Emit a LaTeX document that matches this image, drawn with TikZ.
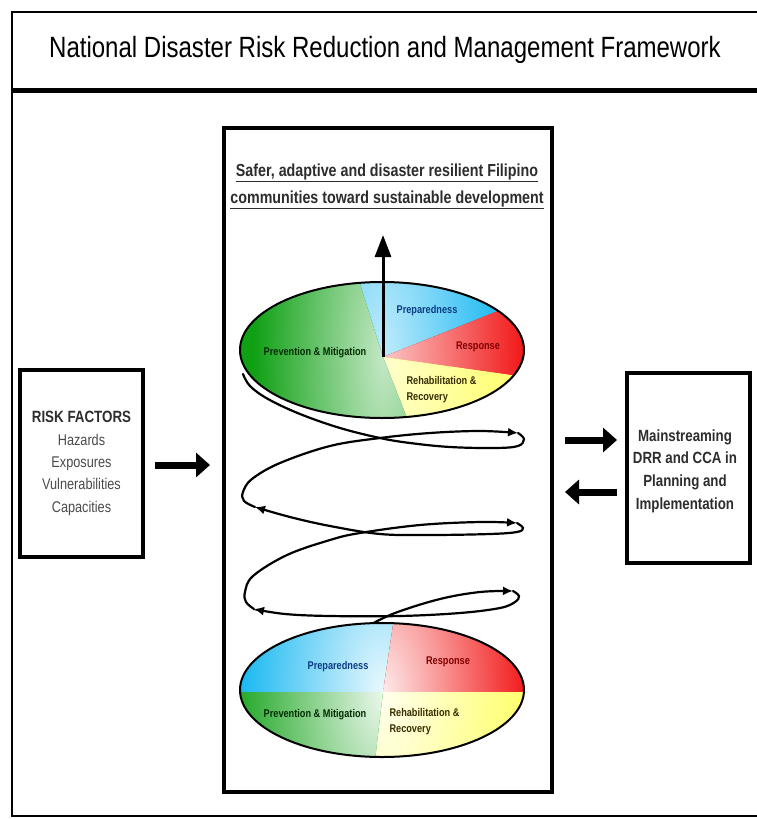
\documentclass[tikz,border=0pt]{standalone}
\usepackage{fontspec}
\setmainfont{Liberation Sans}
\newfontfamily\narrow[FakeStretch=0.82]{Liberation Sans}
\usetikzlibrary{arrows.meta}

\definecolor{fwgreen}{RGB}{15,160,20}
\definecolor{fwblue}{RGB}{0,176,240}
\definecolor{fwred}{RGB}{240,0,0}
\definecolor{fwyellow}{RGB}{255,255,90}
\definecolor{inkgray}{RGB}{45,45,45}
\definecolor{listgray}{RGB}{75,75,75}
\definecolor{bluetext}{RGB}{10,60,130}
\definecolor{redtext}{RGB}{130,0,0}
\definecolor{greentext}{RGB}{0,45,0}
\definecolor{yellowtext}{RGB}{55,45,0}

\tikzset{
  frame/.style={draw=black, line width=2pt},
  panel/.style={draw=black, line width=4pt, fill=white, inner sep=0pt},
  blockarrow/.style={line width=7pt, -{Triangle[length=14pt,width=24pt]}},
  coil/.style={line width=2.2pt, line cap=round},
  coilhead/.style={coil, -{Latex[length=10pt,width=9pt]}},
  seg/.style={font=\narrow\bfseries\fontsize{11.2}{16}\selectfont},
  rim/.style={draw=black, line width=2pt},
}

\begin{document}
\begin{tikzpicture}[x=1pt,y=-1pt]
\useasboundingbox (0,0) rectangle (757,819);
\fill[white] (0,0) rectangle (757,819);

% outer frame and title band
\draw[frame] (758,12) -| (12,816) -- (758,816);
\draw[line width=5pt] (12,90) -- (758,90);
\node[font=\narrow\fontsize{29.3}{32}\selectfont, text=black] (title) at (385,50)
  {National Disaster Risk Reduction and Management Framework};

% central panel
\node[panel, minimum width=328pt, minimum height=664pt] (core) at (388,460) {};
\node[font=\narrow\bfseries\fontsize{17.4}{27}\selectfont, text=inkgray, align=center] (goal) at (387,186)
  {\underline{Safer, adaptive and disaster resilient Filipino}\\
   \underline{communities toward sustainable development}};

% coil rising from the lower disc to the upper disc
\coordinate (c1) at (383,357);
\coordinate (c2) at (383,692);
\draw[coilhead] plot[smooth, tension=0.6] coordinates
  {(368,626) (395,613) (440,599) (480,592) (513,591)};
\draw[coilhead] plot[smooth, tension=0.6] coordinates
  {(513,591) (519,596) (515,602) (500,608) (460,613) (400,616) (330,616) (285,614) (254,609)};
\draw[coilhead] plot[smooth, tension=0.6] coordinates
  {(254,609) (246,602) (245,592) (253,576) (287,555) (330,540) (360,533) (420,525) (480,522) (517,523)};
\draw[coilhead] plot[smooth, tension=0.6] coordinates
  {(517,523) (523,528) (517,532) (490,534) (430,535) (380,534) (330,526) (290,517) (255,507)};
\draw[coilhead] plot[smooth, tension=0.6] coordinates
  {(255,507) (244,501) (243,492) (252,479) (280,463) (330,446) (380,438) (430,433) (480,431) (518,433)};
\draw[coil] plot[smooth, tension=0.6] coordinates
  {(518,433) (524,439) (518,446) (495,448) (450,447) (410,443) (380,438) (340,428) (300,414) (268,399) (250,386) (243,374)};

% upper disc: each sector is solid towards the rim and fades towards the hub
\begin{scope}
  \clip (382,350) ellipse [x radius=142pt, y radius=68pt];
  \begin{scope}
    \clip (c1) -- (337,211) -- (620,211) -- (603,269) -- cycle;
    \fill[fwblue] (200,200) rectangle (650,500);
    \shade[inner color=fwblue!25!white, outer color=fwblue] (c1) ellipse [x radius=140pt, y radius=400pt];
  \end{scope}
  \begin{scope}
    \clip (c1) -- (603,269) -- (650,269) -- (650,393) -- (637,393) -- cycle;
    \fill[fwred] (200,200) rectangle (650,500);
    \shade[inner color=fwred!22!white, outer color=fwred] (c1) ellipse [x radius=160pt, y radius=400pt];
  \end{scope}
  \begin{scope}
    \clip (c1) -- (637,393) -- (650,393) -- (650,500) -- (431,500) -- (431,479) -- cycle;
    \fill[fwyellow] (200,200) rectangle (650,500);
    \shade[inner color=fwyellow!30!white, outer color=fwyellow] (c1) ellipse [x radius=160pt, y radius=400pt];
  \end{scope}
  \begin{scope}
    \clip (c1) -- (431,479) -- (431,500) -- (200,500) -- (200,211) -- (337,211) -- cycle;
    \fill[fwgreen] (200,200) rectangle (650,500);
    \shade[inner color=fwgreen!25!white, outer color=fwgreen] (c1) ellipse [x radius=130pt, y radius=400pt];
  \end{scope}
\end{scope}
\draw[rim] (382,350) ellipse [x radius=142pt, y radius=68pt];
\node[seg, text=bluetext] (prepA) at (427,311) {Preparedness};
\node[seg, text=redtext] (respA) at (478,347) {Response};
\node[seg, text=greentext] (prevA) at (315,353) {Prevention \& Mitigation};
\node[seg, text=yellowtext, align=left, anchor=west] (rehabA) at (403,390) {Rehabilitation \&\\Recovery};
\draw[line width=3pt, -{Triangle[length=22pt,width=16pt]}] (c1) -- (383,235);

% lower disc
\begin{scope}
  \clip (382,690) ellipse [x radius=142pt, y radius=67pt];
  \begin{scope}
    \clip (c2) -- (403,558) -- (200,558) -- (200,692) -- cycle;
    \fill[fwblue] (200,550) rectangle (650,850);
    \shade[inner color=fwblue!8!white, outer color=fwblue] (c2) ellipse [x radius=160pt, y radius=300pt];
  \end{scope}
  \begin{scope}
    \clip (c2) -- (403,558) -- (600,558) -- (600,692) -- cycle;
    \fill[fwred] (200,550) rectangle (650,850);
    \shade[inner color=fwred!8!white, outer color=fwred] (c2) ellipse [x radius=160pt, y radius=300pt];
  \end{scope}
  \begin{scope}
    \clip (c2) -- (600,692) -- (600,830) -- (367,828) -- cycle;
    \fill[fwyellow] (200,550) rectangle (650,850);
    \shade[inner color=fwyellow!10!white, outer color=fwyellow] (c2) ellipse [x radius=160pt, y radius=300pt];
  \end{scope}
  \begin{scope}
    \clip (c2) -- (367,828) -- (200,830) -- (200,692) -- cycle;
    \fill[fwgreen] (200,550) rectangle (650,850);
    \shade[inner color=fwgreen!8!white, outer color=fwgreen] (c2) ellipse [x radius=160pt, y radius=300pt];
  \end{scope}
\end{scope}
\draw[rim] (382,690) ellipse [x radius=142pt, y radius=67pt];
\node[seg, text=bluetext] (prepB) at (338,667) {Preparedness};
\node[seg, text=redtext] (respB) at (448,662) {Response};
\node[seg, text=greentext] (prevB) at (315,715) {Prevention \& Mitigation};
\node[seg, text=yellowtext, align=left, anchor=west] (rehabB) at (386,722) {Rehabilitation \&\\Recovery};

% side panels
\node[panel, minimum width=123pt, minimum height=187pt, align=center,
      font=\narrow\fontsize{15.5}{22.3}\selectfont, text=listgray] (risk) at (81.5,463.5)
  {{\bfseries\fontsize{16.3}{22.3}\selectfont\color{inkgray}RISK FACTORS}\\Hazards\\Exposures\\Vulnerabilities\\Capacities};
\node[panel, minimum width=123pt, minimum height=190pt] (main) at (688.5,468) {};
\node[align=center, font=\narrow\bfseries\fontsize{16.2}{22.7}\selectfont, text=inkgray] (mainText) at (685,471)
  {Mainstreaming\\DRR and CCA in\\Planning and\\Implementation};

% flows between panels
\draw[blockarrow] ([xshift=10pt]risk.east |- 0,465) -- ([xshift=-12pt]core.west |- 0,465);
\draw[blockarrow] ([xshift=11pt]core.east |- 0,440) -- ([xshift=-8pt]main.west |- 0,440);
\draw[blockarrow] ([xshift=-8pt]main.west |- 0,492) -- ([xshift=11pt]core.east |- 0,492);
\end{tikzpicture}
\end{document}
